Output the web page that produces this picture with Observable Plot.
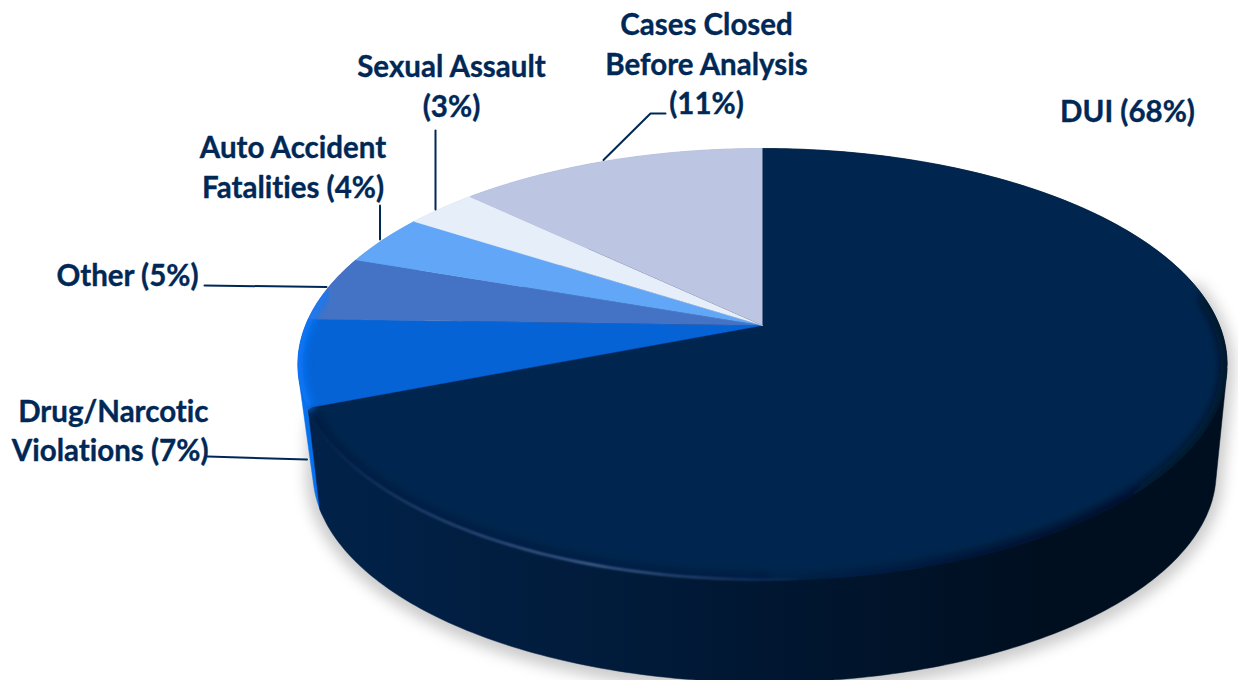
<!DOCTYPE html>
<html>
<head>
<meta charset="utf-8">
<script src="https://cdn.jsdelivr.net/npm/d3@7"></script>
<script src="https://cdn.jsdelivr.net/npm/@observablehq/plot@0.6"></script>
<style>
html,body{margin:0;padding:0;background:#fff;overflow:hidden}
svg{display:block}
text{font-variant-ligatures:none;font-feature-settings:"liga" 0}
</style>
</head>
<body>
<div id="chart"></div>
<script>
// Data
const categories = ["DUI", "Drug/Narcotic Violations", "Other", "Auto Accident Fatalities", "Sexual Assault", "Cases Closed Before Analysis"];
const printedPercent = [68, 7, 5, 4, 3, 11];
// Share of the circle each slice occupies as drawn (the slices are clockwise from 12 o'clock)
const drawnShare = [69, 6.5, 4.9, 3.8, 3, 12.8];
const topColors = ["#00264F", "#0563D6", "#4472C4", "#62A6F7", "#E6EEF9", "#BCC6E2"];
const sideColors = ["url(#sideDark)", "#0670EE", "#3A64B0", "#5595E0", "#CCD6E6", "#A5AFCC"];
const labelTexts = [
  "DUI (68%)",
  "Drug/Narcotic\nViolations (7%)",
  "Other (5%)",
  "Auto Accident\nFatalities (4%)",
  "Sexual Assault\n(3%)",
  "Cases Closed\nBefore Analysis\n(11%)"
];

// Perspective view of a circular disc
const W = 1238, H = 680;
const view = {cx: 762, cy: 325, a: 457, b: 209, k: -0.1806, depth: 109, shrink: 0.972, drift: 2};
function project(share, level = 0) {
  const t = share / 100 * 2 * Math.PI;
  const u = Math.sin(t), v = -Math.cos(t), d = 1 + view.k * v;
  const s = level ? view.shrink : 1;
  return [view.cx + level * view.drift + s * view.a * u / d, view.cy + level * view.depth + s * view.b * v / d];
}
function arc(from, to, level = 0) {
  const n = Math.max(2, Math.ceil(Math.abs(to - from) * 4));
  return d3.range(n + 1).map(i => project(from + (to - from) * i / n, level));
}
const starts = d3.cumsum([0, ...drawnShare]);
const apex = [view.cx, view.cy];
const lerp = (p, q, t) => [p[0] + (q[0] - p[0]) * t, p[1] + (q[1] - p[1]) * t];
const slices = categories.map((category, i) => ({category, from: starts[i], to: starts[i + 1], side: sideColors[i]}));
const toRows = (pts, category) => pts.map(([x, y]) => ({x, y, category}));

// The large slice has a softly rounded front corner
const corner = project(starts[1]);
const cornerStart = project(starts[1] - 0.3);
const cornerEnd = lerp(corner, apex, 10 / 470);
const roundedCorner = d3.range(9).map(i => lerp(lerp(cornerStart, corner, i / 8), lerp(corner, cornerEnd, i / 8), i / 8));

const facePoints = (s, i) => i === 0
  ? [apex, ...arc(s.from, s.to - 0.3), ...roundedCorner]
  : [apex, ...arc(s.from, s.to)];
const topRows = slices.flatMap((s, i) => toRows(facePoints(s, i), s.category));
const wallPoints = (s, i) => d3.polygonHull([
  ...arc(s.from, i === 0 ? s.to - 0.15 : s.to, 0),
  ...arc(s.from, i === 0 ? s.to + 0.4 : s.to, 1)
]);
const wholeTop = arc(0, 100);

// Small render helpers: filter and clip on a mark's group
const dress = ({filter, clip}) => (index, scales, values, dims, ctx, next) => {
  const g = next(index, scales, values, dims, ctx);
  if (filter) g.setAttribute("filter", `url(#${filter})`);
  if (clip) g.setAttribute("clip-path", `url(#${clip})`);
  return g;
};

function defs(index, {x, y}) {
  const d = d3.create("svg:defs");
  const grad = (id, stops, x1, x2) => {
    const g = d.append("linearGradient").attr("id", id).attr("gradientUnits", "userSpaceOnUse")
      .attr("x1", x1).attr("x2", x2).attr("y1", 0).attr("y2", 0);
    stops.forEach(([o, c, a]) => g.append("stop").attr("offset", o).attr("stop-color", c).attr("stop-opacity", a ?? 1));
  };
  grad("sideDark", [[0, "#012249"], [0.3, "#011C3C"], [0.6, "#00142C"], [0.8, "#000F20"], [1, "#000F20"]], x(305), x(1225));
  grad("glint", [[0, "#5A82B5", 0.05], [0.2, "#5A82B5", 0.4], [0.55, "#6A90C0", 0.7], [1, "#5A82B5", 0]], x(320), x(810));
  grad("rimDark", [[0, "#000A18", 0], [0.5, "#000A18", 0.5], [1, "#000A18", 0.75]], x(720), x(1210));
  const blur = (id, sd) => d.append("filter").attr("id", id).attr("x", "-20%").attr("y", "-20%")
    .attr("width", "140%").attr("height", "140%").append("feGaussianBlur").attr("stdDeviation", sd);
  blur("blurBig", 7); blur("blurMid", 4); blur("blurSmall", 0.9);
  d.append("clipPath").attr("id", "topClip").append("path")
    .attr("d", d3.line().x(p => x(p[0])).y(p => y(p[1]))(wholeTop) + "Z");
  return d.node();
}

// Annotation layout
const font = {fontFamily: "Lato", fontWeight: 700, fontSize: 29.5, fill: "#002856", stroke: "#002856", strokeWidth: 0.35, lineHeight: 1.34, lineAnchor: "middle"};
const labelPlace = [
  {x: 1127, y: 108.5, textAnchor: "middle"},
  {x: 208, y: 428.5, textAnchor: "end"},
  {x: 127, y: 273, textAnchor: "middle"},
  {x: 292.5, y: 165, textAnchor: "middle"},
  {x: 451, y: 84, textAnchor: "middle"},
  {x: 706, y: 61.5, textAnchor: "middle"}
];
const leaders = [
  [[603, 159.5], [650, 113], [665, 113]],
  [[435, 130], [435, 209]],
  [[379.5, 205], [379.5, 239]],
  [[204, 285], [326, 286.5]],
  [[207, 456], [306.5, 459]]
];

const shadowRows = d3.polygonHull([...arc(0, 100, 1), ...arc(22, 68, 0)]).map(([x, y]) => ({x, y: y + 3}));

const plot = Plot.plot({
  width: W, height: H, margin: 0,
  x: {domain: [0, W], range: [0, W], axis: null},
  y: {domain: [0, H], range: [0, H], axis: null},
  color: {domain: categories, range: topColors},
  style: {background: "#fff", overflow: "hidden"},
  marks: [
    defs,
    // soft shadow
    Plot.line(shadowRows, {x: "x", y: "y", fill: "#000", stroke: "#000", strokeWidth: 14, opacity: 0.2, render: dress({filter: "blurBig"})}),
    // rim walls
    ...slices.map((s, i) => ({s, i})).reverse().map(({s, i}) => Plot.line(toRows(wallPoints(s, i), s.category), {x: "x", y: "y", fill: s.side, stroke: s.side, strokeWidth: 0.5})),
    // top faces
    Plot.line(topRows, {x: "x", y: "y", z: "category", fill: "category", stroke: "category", strokeWidth: 0.4}),
    // bevel lighting
    Plot.line(toRows(arc(starts[1], 77.5)), {x: "x", y: "y", stroke: "#0A7AFF", strokeWidth: 10, render: dress({filter: "blurMid", clip: "topClip"})}),
    Plot.line(toRows(arc(23, 50)), {x: "x", y: "y", stroke: "url(#rimDark)", strokeWidth: 13, render: dress({filter: "blurMid", clip: "topClip"})}),
    Plot.line(toRows(arc(50, starts[1] - 0.6)), {x: "x", y: "y", stroke: "#000E20", strokeOpacity: 0.28, strokeWidth: 16, render: dress({filter: "blurMid", clip: "topClip"})}),
    Plot.line(toRows(arc(49, starts[1] - 0.6)).map(d => ({...d, y: d.y - 1})), {x: "x", y: "y", stroke: "url(#glint)", strokeWidth: 2.2, render: dress({filter: "blurSmall"})}),
    // leader lines
    ...leaders.map(pts => Plot.line(pts, {x: "0", y: "1", stroke: "#002856", strokeWidth: 2})),
    // labels
    ...labelTexts.map((text, i) => Plot.text([text], {...font, ...labelPlace[i], text: d => d}))
  ]
});
document.getElementById("chart").append(plot);
</script>
</body>
</html>
